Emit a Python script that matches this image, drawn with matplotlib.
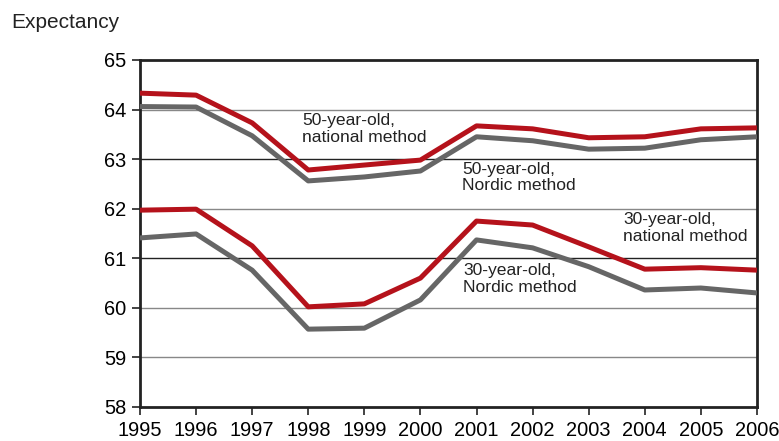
import matplotlib.pyplot as plt

plt.rcParams['font.family'] = ['Liberation Sans', 'DejaVu Sans']

years = [1995, 1996, 1997, 1998, 1999, 2000, 2001, 2002, 2003, 2004, 2005, 2006]

# life expectancy (remaining years)
nat_50 = [64.33, 64.29, 63.73, 62.78, 62.88, 62.98, 63.67, 63.61, 63.43, 63.45, 63.61, 63.63]
nor_50 = [64.06, 64.05, 63.47, 62.56, 62.64, 62.76, 63.45, 63.37, 63.20, 63.22, 63.39, 63.45]
nat_30 = [61.97, 61.99, 61.25, 60.02, 60.08, 60.60, 61.75, 61.67, 61.23, 60.78, 60.81, 60.76]
nor_30 = [61.41, 61.49, 60.76, 59.57, 59.59, 60.16, 61.37, 61.21, 60.83, 60.36, 60.40, 60.30]

red = '#b5121b'
grey = '#666666'

fig = plt.figure(figsize=(7.79, 4.41), dpi=100)
ax = fig.add_axes([0.1797, 0.0771, 0.792, 0.787])

ax.plot(years, nor_50, color=grey, lw=3.6, solid_capstyle='butt', zorder=3)
ax.plot(years, nat_50, color=red, lw=3.6, solid_capstyle='butt', zorder=4)
ax.plot(years, nor_30, color=grey, lw=3.6, solid_capstyle='butt', zorder=3)
ax.plot(years, nat_30, color=red, lw=3.6, solid_capstyle='butt', zorder=4)

ax.set_xlim(1995, 2006)
ax.set_ylim(58, 65)
ax.set_xticks(years)
ax.set_yticks(range(58, 66))
ax.tick_params(axis='both', labelsize=14.4, length=6, width=1.2, direction='out', color='#222222')
ax.tick_params(axis='x', pad=4)
ax.tick_params(axis='y', pad=4)

# horizontal grid lines, alternating shade as in the original
for v in range(59, 65):
    c = '#222222' if v in (61, 63) else '#888888'
    ax.axhline(v, color=c, lw=1.0, zorder=1)

for s in ax.spines.values():
    s.set_linewidth(2)
    s.set_color('#222222')

txt = dict(fontsize=12.6, va='top', ha='left', linespacing=1.15, color='#222222')
ax.text(1997.89, 63.93, '50-year-old,\nnational method', **txt)
ax.text(2000.74, 62.95, '50-year-old,\nNordic method', **txt)
ax.text(2003.62, 61.93, '30-year-old,\nnational method', **txt)
ax.text(2000.76, 60.90, '30-year-old,\nNordic method', **txt)

fig.text(0.015, 0.95, 'Expectancy', fontsize=15, va='center', ha='left', color='#222222')

fig.savefig('out.png', dpi=100)
